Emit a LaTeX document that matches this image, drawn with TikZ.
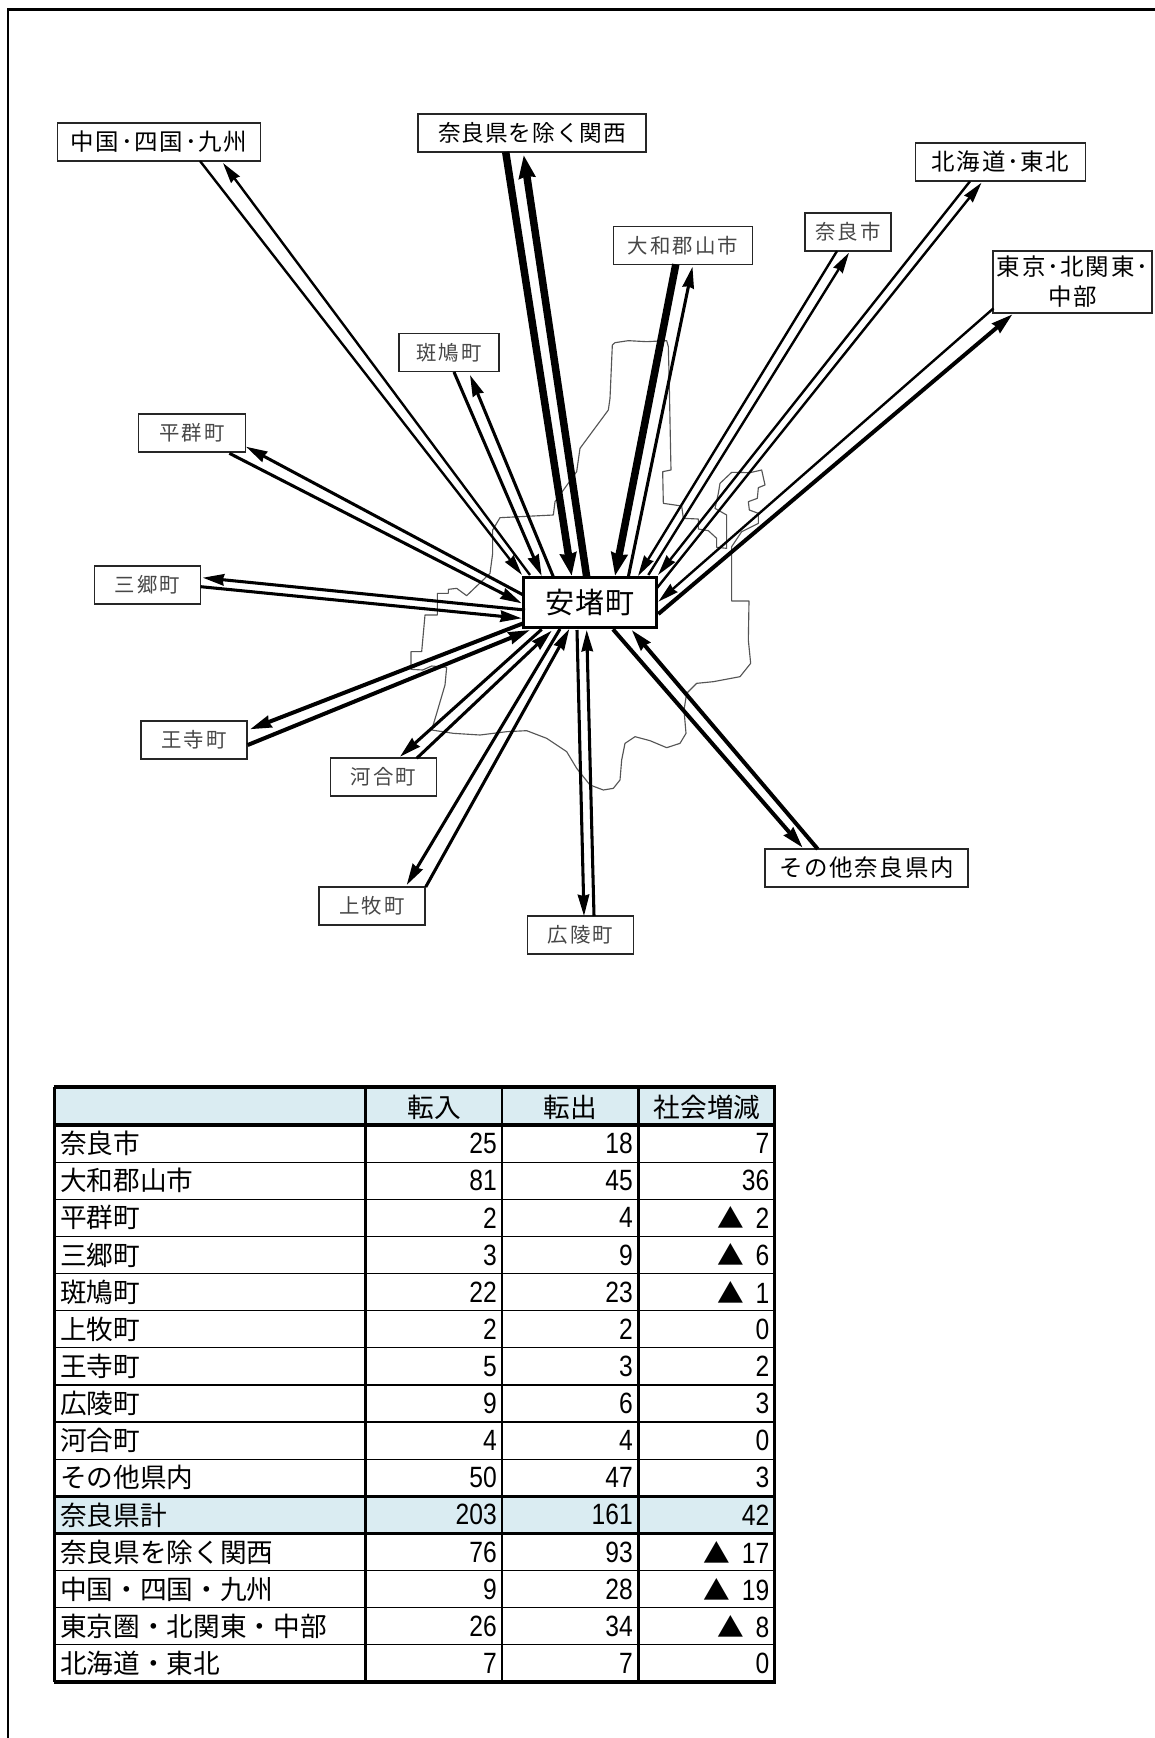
\documentclass[tikz,border=0pt]{standalone}
\usepackage{fontspec}
\usepackage{graphicx}
\usetikzlibrary{arrows.meta}
\setmainfont{Noto Sans CJK JP}
\newfontfamily\regionfont[LetterSpace=7.5]{Noto Sans CJK JP}
\newfontfamily\kansaifont[LetterSpace=4]{Noto Sans CJK JP}
\newfontfamily\townfont[LetterSpace=10]{Noto Sans CJK JP}
\newfontfamily\hubfont[LetterSpace=2]{Noto Sans CJK JP}
\newfontfamily\tablefont{Noto Sans CJK JP}
\newfontfamily\numfont{Liberation Sans}
\newcommand{\dg}[1]{{\numfont\fontsize{22pt}{24pt}\selectfont\scalebox{.84}[1]{#1}}}
\newcommand{\lossv}[1]{{\tablefont\fontsize{20pt}{24pt}\selectfont ▲}\hspace{8.5pt}\dg{#1}}
\newcommand{\arr}[5]{\draw[#1] ([shift={(#3)}]#2.center) -- ([shift={(#5)}]#4.center);}
\definecolor{tablefill}{HTML}{DAECF2}
\definecolor{mapline}{HTML}{555555}
\tikzset{
  region/.style={draw=black!85,fill=white,line width=.85pt,inner sep=0pt,minimum height=28.5pt,font={\regionfont\fontsize{17.6pt}{22.5pt}\selectfont},align=center},
  town/.style={draw=black!85,fill=white,line width=.85pt,inner sep=0pt,minimum height=28.5pt,text=black!72,font={\townfont\fontsize{15.3pt}{18pt}\selectfont}},
  hubbox/.style={draw=black,fill=white,line width=2pt,inner sep=0pt,minimum width=99.5pt,minimum height=37.5pt,font={\hubfont\fontsize{21.75pt}{26pt}\selectfont}},
  thinflow/.style={line width=1.8pt,-{Stealth[length=15.5pt,width=8pt,inset=1pt]}},
  midflow/.style={line width=2.3pt,-{Stealth[length=16pt,width=8.5pt,inset=1pt]}},
  boldflow/.style={line width=3pt,-{Stealth[length=16pt,width=9pt,inset=1pt]}},
  heavyflow/.style={line width=5.6pt,-{Stealth[length=17pt,width=12pt,inset=1pt]}},
  thickrule/.style={line width=2.4pt,black},
  thinrule/.style={line width=.95pt,black},
  headcell/.style={inner sep=0pt,font={\tablefont\fontsize{20pt}{24pt}\selectfont}},
  namecell/.style={inner sep=0pt,anchor=west,font={\tablefont\fontsize{20pt}{24pt}\selectfont}},
  valcell/.style={inner sep=0pt,anchor=east},
}
\begin{document}
\begin{tikzpicture}[x=0.75pt,y=-0.75pt]
\useasboundingbox (0,0) rectangle (1155,1738);
\fill[white] (0,0) rectangle (1155,1738);
\draw[line width=1.9pt,line cap=butt] (8,1738) -- (8,9.3) -- (1155,9.3);
% map outline
\begin{scope}[shift={(380,320)},x=0.25pt,y=-0.25pt]
\draw[mapline,line width=.85pt,line join=round] (697,75)--(705,68)--(745,62)--(800,65)--(860,62)--(865,80)--(868,200)--(872,405)--(873,450)--(848,455)--(850,550)--(905,558)--(910,595)--(955,597)--(955,627)--(985,632)--(1010,655)--(1010,682)--(1040,685)--(1040,585)--(1005,565)--(1015,520)--(1020,490)--(1055,457)--(1110,458)--(1145,450)--(1155,495)--(1135,503)--(1132,535)--(1105,545)--(1108,570)--(1135,580)--(1135,610)--(1085,635)--(1055,680)--(1055,843)--(1107,843)--(1105,960)--(1112,1030)--(1080,1070)--(1000,1085)--(950,1090)--(920,1120)--(912,1170)--(918,1240)--(900,1270)--(860,1283)--(810,1262)--(765,1250)--(735,1270)--(725,1320)--(720,1380)--(700,1405)--(670,1410)--(630,1395)--(590,1345)--(560,1295)--(500,1255)--(440,1232)--(380,1235)--(300,1245)--(220,1240)--(155,1230)--(170,1180)--(195,1095)--(200,1042)--(155,1038)--(128,1050)--(93,1048)--(93,995)--(125,995)--(135,885)--(172,885)--(172,820)--(205,820)--(205,808)--(230,805)--(260,827)--(330,760)--(338,700)--(338,630)--(360,593)--(520,585)--(525,545)--(590,455)--(600,385)--(685,270)--(690,235)--cycle;
\end{scope}
% nodes
\node[hubbox] (hub) at (590,602.5) {安堵町};
\node[region,minimum width=152.25pt] (zh) at (159,142) {中国･四国･九州};
\node[region,minimum width=171pt,font={\kansaifont\fontsize{17pt}{22pt}\selectfont}] (ks) at (532,133) {奈良県を除く関西};
\node[town,minimum width=104.6pt] (ya) at (683,245.5) {大和郡山市};
\node[town,minimum width=64.5pt] (na) at (848,232) {奈良市};
\node[region,minimum width=127.5pt] (ho) at (1000.5,162) {北海道･東北};
\node[region,minimum width=119.25pt,minimum height=46.5pt] (to) at (1072.5,282) {東京･北関東･\\中部};
\node[town,minimum width=75pt] (ik) at (449,352.5) {斑鳩町};
\node[town,minimum width=80pt] (he) at (192,433) {平群町};
\node[town,minimum width=80pt] (sa) at (147.5,585) {三郷町};
\node[town,minimum width=79.5pt] (oj) at (194,740) {王寺町};
\node[town,minimum width=80pt] (kw) at (383.5,777) {河合町};
\node[town,minimum width=79.5pt] (km) at (372,906) {上牧町};
\node[town,minimum width=79.5pt] (ko) at (580.3,935) {広陵町};
\node[region,minimum width=152.25pt] (so) at (866.5,868) {その他奈良県内};
% connectors
\arr{thinflow}{zh}{41,19}{hub}{-68,-27.5}
\arr{thinflow}{hub}{-60,-27.5}{zh}{64,21}
\arr{heavyflow}{ks}{-26.3,19}{hub}{-18.3,-26.5}
\arr{heavyflow}{hub}{-3.3,-25.5}{ks}{-8.3,22}
\arr{heavyflow}{ya}{-7.2,18.8}{hub}{25,-26.5}
\arr{midflow}{hub}{38.3,-25.5}{ya}{9.5,21.2}
\arr{thinflow}{na}{-11,19}{hub}{48,-26.5}
\arr{thinflow}{hub}{58.3,-27.5}{na}{1,20.7}
\arr{thinflow}{ho}{-30.5,19.3}{hub}{68,-27.5}
\arr{thinflow}{hub}{67,-14.5}{ho}{-19,20.7}
\arr{thinflow}{to}{-79,26.3}{hub}{68.3,-0.8}
\arr{boldflow}{hub}{68.3,11.5}{to}{-60,32.3}
\arr{boldflow}{hub}{23,26.8}{so}{-63.8,-20.3}
\arr{boldflow}{so}{-48.8,-19}{hub}{41.7,27.5}
\arr{midflow}{hub}{-13,27.5}{ko}{3.7,-19}
\arr{midflow}{ko}{13.7,-19}{hub}{-3.3,27.5}
\arr{midflow}{hub}{-30,26.5}{km}{34.7,-21}
\arr{midflow}{km}{53.7,-19}{hub}{-20.7,26.5}
\arr{midflow}{hub}{-48.3,26.8}{kw}{16.5,-20.3}
\arr{midflow}{kw}{33.2,-18.7}{hub}{-38.3,28.2}
\arr{boldflow}{hub}{-66.7,20.8}{oj}{56,-10.7}
\arr{boldflow}{oj}{53.7,5}{hub}{-60,27.5}
\arr{midflow}{hub}{-65,7.5}{sa}{55.2,-7.3}
\arr{midflow}{sa}{53.2,1.7}{hub}{-68.3,15.8}
\arr{midflow}{hub}{-66.7,-7.5}{he}{54,13.7}
\arr{midflow}{he}{37.4,20.3}{hub}{-68.3,.8}
\arr{midflow}{ik}{5,19.5}{hub}{-48.3,-26.5}
\arr{midflow}{hub}{-36.7,-25.8}{ik}{21,22.5}
% table
\fill[tablefill] (55,1087) rectangle (775,1124);
\fill[tablefill] (55,1496.3) rectangle (775,1533.4);
\node[headcell] (headA) at (434,1107.5) {転入};
\node[headcell] (headB) at (570,1107.5) {転出};
\node[headcell] (headC) at (707,1107.5) {社会増減};
\foreach \i/\nm/\a/\b/\c in {
 0/奈良市/25/18/{\dg{7}},
 1/大和郡山市/81/45/{\dg{36}},
 2/平群町/2/4/{\lossv{2}},
 3/三郷町/3/9/{\lossv{6}},
 4/斑鳩町/22/23/{\lossv{1}},
 5/上牧町/2/2/{\dg{0}},
 6/王寺町/5/3/{\dg{2}},
 7/広陵町/9/6/{\dg{3}},
 8/河合町/4/4/{\dg{0}},
 9/その他県内/50/47/{\dg{3}},
 10/奈良県計/203/161/{\dg{42}},
 11/奈良県を除く関西/76/93/{\lossv{17}},
 12/中国・四国・九州/9/28/{\lossv{19}},
 13/東京圏・北関東・中部/26/34/{\lossv{8}},
 14/北海道・東北/7/7/{\dg{0}}}{
  \pgfmathsetmacro\yy{1125+37.13*(\i+.5)}
  \node[namecell] (n\i) at (60,\yy) {\nm};
  \node[valcell] (a\i) at (497,\yy) {\dg{\a}};
  \node[valcell] (b\i) at (633,\yy) {\dg{\b}};
  \node[valcell] (c\i) at (769.5,\yy) {\c};
}
\foreach \i in {1,2,...,14}{
  \pgfmathsetmacro\yy{1125+37.13*\i}
  \draw[thinrule] (55,\yy) -- (775,\yy);
}
\draw[thickrule] (53.5,1087) -- (776,1087);
\draw[thickrule] (53.5,1125) -- (776,1125);
\draw[thickrule] (53.5,1496.3) -- (776,1496.3);
\draw[thickrule] (53.5,1533.4) -- (776,1533.4);
\draw[thickrule] (53.5,1682) -- (776,1682);
\draw[thickrule] (54.7,1087) -- (54.7,1682);
\draw[thickrule] (365.5,1087) -- (365.5,1682);
\draw[thinrule] (502,1087) -- (502,1682);
\draw[thickrule] (638.3,1087) -- (638.3,1682);
\draw[thickrule] (774.8,1087) -- (774.8,1682);
\end{tikzpicture}
\end{document}
